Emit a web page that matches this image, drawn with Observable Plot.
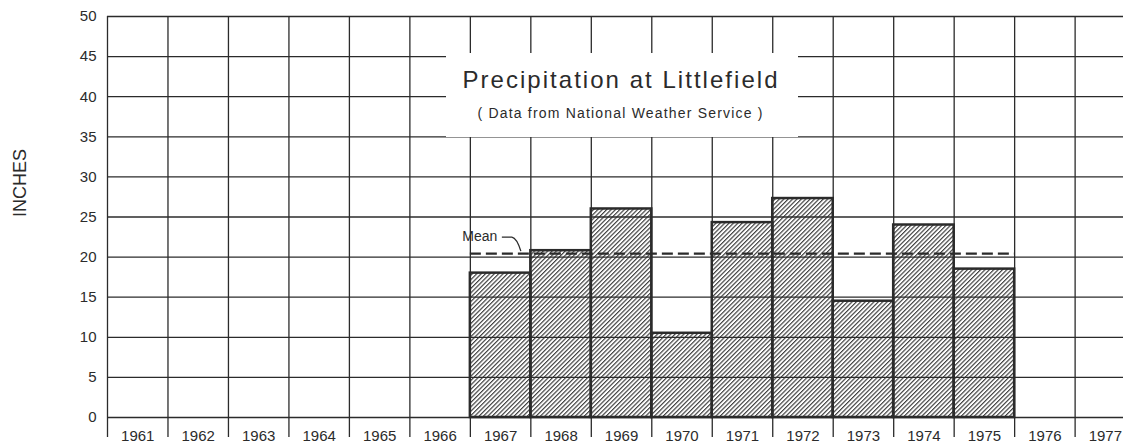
<!DOCTYPE html>
<html>
<head>
<meta charset="utf-8">
<script src="https://cdn.jsdelivr.net/npm/d3@7"></script>
<script src="https://cdn.jsdelivr.net/npm/@observablehq/plot@0.6"></script>
<style>
  body { margin: 0; background: #fff; }
  #chart { width: 1123px; height: 444px; }
</style>
</head>
<body>
<div id="chart"></div>
<script>
// ---- data ----
const years = [1967, 1968, 1969, 1970, 1971, 1972, 1973, 1974, 1975];
const precipitation = [18.0, 20.8, 26.0, 10.5, 24.3, 27.3, 14.5, 24.0, 18.5];
const axisYears = [1961, 1962, 1963, 1964, 1965, 1966, 1967, 1968, 1969, 1970, 1971, 1972, 1973, 1974, 1975, 1976, 1977];
const yTicks = [0, 5, 10, 15, 20, 25, 30, 35, 40, 45, 50];
const titleText = "Precipitation at Littlefield";
const subtitleText = "( Data from National Weather Service )";
const yLabel = "INCHES";
const meanLabel = "Mean";

// ---- layout ----
const W = 1123, H = 444;
const mL = 107, mR = 0, mT = 16, mB = 27;
const xDomain = [1961, 1977.8];
const yDomain = [0, 50];
const ink = "#2b2b2b";
const font = "'Liberation Sans', Arial, sans-serif";

const data = years.map((year, i) => ({year, value: precipitation[i]}));
const mean = d3.mean(precipitation);

const svg = Plot.plot({
  width: W, height: H,
  marginLeft: mL, marginRight: mR, marginTop: mT, marginBottom: mB,
  style: {fontFamily: font, background: "#fff", color: ink},
  x: {type: "linear", domain: xDomain},
  y: {domain: yDomain},
  marks: [
    Plot.rectY(data, {x1: "year", x2: d => d.year + 1, y: "value", fill: "url(#hatch)"}),
    Plot.gridY(yTicks, {stroke: ink, strokeOpacity: 1, strokeWidth: 1.3}),
    Plot.gridX(axisYears, {stroke: ink, strokeOpacity: 1, strokeWidth: 1.3}),
    Plot.axisX(axisYears, {tickSize: 20, tickFormat: () => "", stroke: ink, strokeWidth: 1.3, label: null}),
    Plot.axisX(axisYears.map(y => y + 0.5), {tickSize: 0, tickPadding: 13, tickFormat: d => String(d - 0.5), fontSize: 15, label: null}),
    Plot.axisY(yTicks, {tickSize: 0, tickPadding: 11, fontSize: 15, label: null, style: {letterSpacing: "2px"}}),
    Plot.rectY(data, {x1: "year", x2: d => d.year + 1, y: "value", fill: "none", stroke: ink, strokeWidth: 2.5}),
    Plot.ruleY([mean], {x1: () => years[0], x2: () => years[years.length - 1] + 1, stroke: ink, strokeWidth: 2.2, strokeDasharray: "11,5"}),
    Plot.text([mean], {x: () => years[0], y: d => d, text: () => meanLabel, textAnchor: "start", dx: -8, dy: -17, fontSize: 14}),
    Plot.text([yLabel], {frameAnchor: "left", text: d => d, rotate: -90, dx: -87, fontSize: 18})
  ]
});

// ---- decorations (hatch pattern, leader, title box) ----
const x = d3.scaleLinear(xDomain, [mL, W - mR]);
const y = d3.scaleLinear(yDomain, [H - mB, mT]);
const s = d3.select(svg);
const defs = s.insert("defs", ":first-child");
const pat = defs.append("pattern")
  .attr("id", "hatch").attr("patternUnits", "userSpaceOnUse")
  .attr("width", 3.1).attr("height", 3.1)
  .attr("patternTransform", "rotate(45)");
pat.append("rect").attr("width", 3.1).attr("height", 3.1).attr("fill", "#fff");
pat.append("line").attr("x1", 0.6).attr("y1", -1).attr("x2", 0.6).attr("y2", 4.1)
  .attr("stroke", "#333").attr("stroke-width", 1.1);

const lx = x(years[0]), ly = y(mean);
s.append("path")
  .attr("d", `M${lx + 32},${ly - 16}H${lx + 42}Q${lx + 47},${ly - 15} ${lx + 51},${ly - 2}`)
  .attr("fill", "none").attr("stroke", ink).attr("stroke-width", 1.3);

const g = s.append("g").attr("fill", ink);
g.append("rect").attr("x", 446).attr("y", 53).attr("width", 352).attr("height", 84).attr("fill", "#fff");
g.append("text").attr("x", 620).attr("y", 88).attr("text-anchor", "middle")
  .attr("font-size", 24).attr("textLength", 315).attr("lengthAdjust", "spacing").text(titleText);
g.append("text").attr("x", 620).attr("y", 118).attr("text-anchor", "middle")
  .attr("font-size", 14).attr("textLength", 285).attr("lengthAdjust", "spacing").text(subtitleText);

document.getElementById("chart").appendChild(svg);
</script>
</body>
</html>
